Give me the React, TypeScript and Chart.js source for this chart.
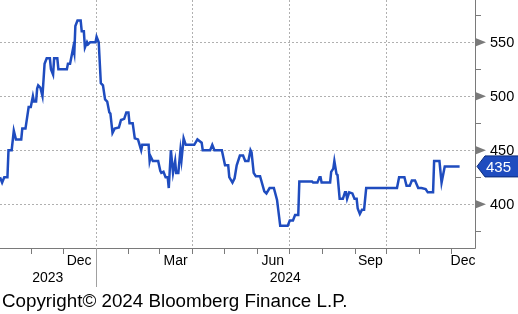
import { useEffect, useRef } from "react";
import { Chart, registerables } from "chart.js";

Chart.register(...registerables);

// days since 2024-01-01
const dates = [
  -90, -88, -86, -83, -82, -79, -77, -75, -70, -69, -66, -63, -61, -59, -58, -56, -55, -54, -52, -50,
  -48, -46, -43, -42, -40, -39, -36, -35, -27, -26, -24, -22, -21, -20, -19, -17, -14, -13, -11, -10,
  -8, -7, -5, 0, 1, 3, 5, 7, 9, 11, 13, 14, 16, 18, 22, 24, 27, 29, 31, 32,
  35, 37, 40, 43, 44, 50, 51, 52, 54, 59, 61, 62, 64, 66, 68, 69, 71, 73, 75, 76,
  78, 80, 81, 83, 85, 93, 96, 100, 101, 108, 110, 112, 119, 122, 125, 126, 129, 131, 133, 136,
  139, 141, 144, 146, 147, 149, 151, 155, 159, 161, 164, 168, 171, 174, 181, 183, 186, 188, 191, 192,
  204, 205, 209, 211, 212, 213, 221, 222, 224, 225, 227, 228, 230, 233, 235, 236, 237, 239, 242, 244,
  246, 247, 249, 251, 253, 255, 284, 286, 291, 293, 296, 298, 301, 304, 307, 311, 313, 318, 319, 324,
  326, 329, 343,
];
const values = [
  425, 420, 425, 425, 450, 450, 468, 460, 460, 470, 470, 490, 490, 500, 495, 495, 507, 510, 508, 500,
  530, 535, 535, 525, 520, 535, 535, 525, 525, 530, 530, 540, 545, 540, 565, 570, 570, 560, 560, 545,
  550, 548, 550, 550, 555, 550, 512, 510, 497, 495, 485, 484, 466, 470, 471, 478, 479, 485, 485, 475,
  475, 461, 460, 450, 455, 455, 440, 444, 440, 440, 431, 429, 430, 425, 425, 415, 450, 429, 440, 429,
  429, 450, 441, 461, 455, 455, 460, 457, 450, 450, 455, 450, 450, 436, 436, 425, 420, 424, 436, 445,
  445, 440, 440, 450, 448, 429, 426, 426, 412, 410, 415, 415, 404, 380, 380, 385, 385, 390, 390, 421,
  421, 420, 420, 425, 425, 420, 420, 430, 433, 440, 428, 427, 405, 405, 411, 411, 405, 411, 410, 405,
  405, 396, 391, 395, 395, 415, 415, 425, 425, 417, 417, 422, 422, 415, 415, 414, 411, 411, 440, 440,
  420, 435, 435,
];

const yMajorTicks = [400, 450, 500, 550];
const yMinorTicks = [375, 425, 475, 525, 575];
const monthTickDates = [
  "2023-11-01", "2023-12-01", "2024-01-01", "2024-02-01", "2024-03-01", "2024-04-01", "2024-05-01",
  "2024-06-01", "2024-07-01", "2024-08-01", "2024-09-01", "2024-10-01", "2024-11-01", "2024-12-01",
];
const gridDates = ["2024-01-01", "2024-04-01", "2024-07-01", "2024-10-01"];
const monthLabels = ["Dec", "Mar", "Jun", "Sep", "Dec"];
const monthLabelStarts = ["2023-12-01", "2024-03-01", "2024-06-01", "2024-09-01", "2024-12-01"];
const monthLabelEnds = ["2024-01-01", "2024-04-01", "2024-07-01", "2024-10-01", "2025-01-01"];
const yearLabels = ["2023", "2024"];
const yearStarts = ["2023-01-01", "2024-01-01"];
const yearEnds = ["2024-01-01", "2025-01-01"];

const X_MIN = -90;
const X_MAX = 357.5;
const Y_MIN = 359.5;
const Y_MAX = 589;

const LINE_COLOR = "#1f4cbf";
const AXIS_COLOR = "#7a7a7a";
const FONT = "Liberation Sans, Arial, sans-serif";

function dayOf(s: string): number {
  const [y, m, d] = s.split("-").map(Number);
  return (Date.UTC(y, m - 1, d) - Date.UTC(2024, 0, 1)) / 86400000;
}

const decorPlugin = {
  id: "decor",
  beforeDatasetsDraw(chart: any) {
    const { ctx, chartArea, scales } = chart;
    const xs = scales.x;
    const ys = scales.y;
    ctx.save();
    ctx.strokeStyle = "#b0b0b0";
    ctx.lineWidth = 1;
    ctx.setLineDash([2, 2]);
    for (const v of yMajorTicks) {
      const y = Math.round(ys.getPixelForValue(v)) + 0.5;
      ctx.beginPath();
      ctx.moveTo(chartArea.left, y);
      ctx.lineTo(chartArea.right, y);
      ctx.stroke();
    }
    for (const d of gridDates) {
      const x = Math.round(xs.getPixelForValue(dayOf(d))) + 0.5;
      ctx.beginPath();
      ctx.moveTo(x, chartArea.top);
      ctx.lineTo(x, chartArea.bottom);
      ctx.stroke();
    }
    ctx.restore();
  },
  afterDatasetsDraw(chart: any) {
    const { ctx, chartArea, scales } = chart;
    const xs = scales.x;
    const ys = scales.y;
    const R = chartArea.right;
    const B = chartArea.bottom;
    ctx.save();
    ctx.setLineDash([]);
    ctx.strokeStyle = AXIS_COLOR;
    ctx.lineWidth = 1;
    // axis lines
    ctx.beginPath();
    ctx.moveTo(R + 0.5, chartArea.top);
    ctx.lineTo(R + 0.5, B + 0.5);
    ctx.lineTo(chartArea.left, B + 0.5);
    ctx.stroke();
    // minor y ticks
    for (const v of yMinorTicks) {
      const y = Math.round(ys.getPixelForValue(v)) + 0.5;
      ctx.beginPath();
      ctx.moveTo(R, y);
      ctx.lineTo(R + 6, y);
      ctx.stroke();
    }
    // major y ticks (triangles) + labels
    ctx.fillStyle = AXIS_COLOR;
    for (const v of yMajorTicks) {
      const y = ys.getPixelForValue(v);
      ctx.beginPath();
      ctx.moveTo(R + 1, y - 4);
      ctx.lineTo(R + 11, y);
      ctx.lineTo(R + 1, y + 4);
      ctx.closePath();
      ctx.fill();
    }
    ctx.fillStyle = "#000";
    ctx.font = `14.5px ${FONT}`;
    ctx.textAlign = "left";
    ctx.textBaseline = "middle";
    for (const v of yMajorTicks) {
      const y = ys.getPixelForValue(v);
      ctx.fillText(String(v), R + 15, y + 1);
    }
    // x ticks
    for (const d of monthTickDates) {
      const x = Math.round(xs.getPixelForValue(dayOf(d))) + 0.5;
      ctx.beginPath();
      ctx.moveTo(x, B);
      ctx.lineTo(x, B + 6);
      ctx.stroke();
    }
    // month labels
    ctx.textAlign = "center";
    ctx.textBaseline = "top";
    ctx.font = `14px ${FONT}`;
    monthLabels.forEach((lab, i) => {
      const a = Math.max(dayOf(monthLabelStarts[i]), X_MIN);
      const b = Math.min(dayOf(monthLabelEnds[i]), X_MAX);
      const x = xs.getPixelForValue((a + b) / 2);
      ctx.fillText(lab, x, B + 6);
    });
    // year labels
    yearLabels.forEach((lab, i) => {
      const a = Math.max(dayOf(yearStarts[i]), X_MIN);
      const b = Math.min(dayOf(yearEnds[i]), X_MAX);
      const x = xs.getPixelForValue((a + b) / 2);
      ctx.fillText(lab, x, B + 23);
    });
    // year separator
    ctx.strokeStyle = "#a0a0a0";
    const sx = Math.round(xs.getPixelForValue(dayOf(yearStarts[1]))) + 0.5;
    ctx.beginPath();
    ctx.moveTo(sx, B);
    ctx.lineTo(sx, B + 39);
    ctx.stroke();
    // last value flag
    const last = values[values.length - 1];
    const ly = ys.getPixelForValue(last);
    ctx.fillStyle = LINE_COLOR;
    ctx.strokeStyle = "#0b2a78";
    ctx.beginPath();
    ctx.moveTo(R + 2, ly);
    ctx.lineTo(R + 10, ly - 10.5);
    ctx.lineTo(chart.width + 1, ly - 10.5);
    ctx.lineTo(chart.width + 1, ly + 10.5);
    ctx.lineTo(R + 10, ly + 10.5);
    ctx.closePath();
    ctx.fill();
    ctx.stroke();
    ctx.fillStyle = "#fff";
    ctx.font = `15px ${FONT}`;
    ctx.textAlign = "left";
    ctx.textBaseline = "middle";
    ctx.fillText(String(last), R + 11, ly + 1);
    // copyright
    ctx.fillStyle = "#000";
    ctx.font = `18.8px ${FONT}`;
    ctx.textBaseline = "alphabetic";
    ctx.fillText("Copyright\u00a9 2024 Bloomberg Finance L.P.", 2, 307);
    ctx.restore();
  },
};

export default function App() {
  const ref = useRef<HTMLCanvasElement | null>(null);
  useEffect(() => {
    document.body.style.margin = "0";
    const canvas = ref.current;
    if (!canvas) return;
    const chart = new Chart(canvas, {
      type: "line",
      data: {
        datasets: [
          {
            data: dates.map((d, i) => ({ x: d, y: values[i] })),
            borderColor: LINE_COLOR,
            borderWidth: 2.5,
            pointRadius: 0,
            tension: 0,
            fill: false,
          },
        ],
      },
      options: {
        animation: false,
        responsive: false,
        devicePixelRatio: 1,
        layout: { padding: { left: 0, top: 0, right: 43, bottom: 66 } },
        scales: {
          x: { type: "linear", min: X_MIN, max: X_MAX, display: false },
          y: { type: "linear", min: Y_MIN, max: Y_MAX, display: false },
        },
        plugins: { legend: { display: false }, tooltip: { enabled: false } },
      },
      plugins: [decorPlugin],
    });
    return () => chart.destroy();
  }, []);
  return <canvas ref={ref} width={518} height={314} style={{ display: "block" }} />;
}
